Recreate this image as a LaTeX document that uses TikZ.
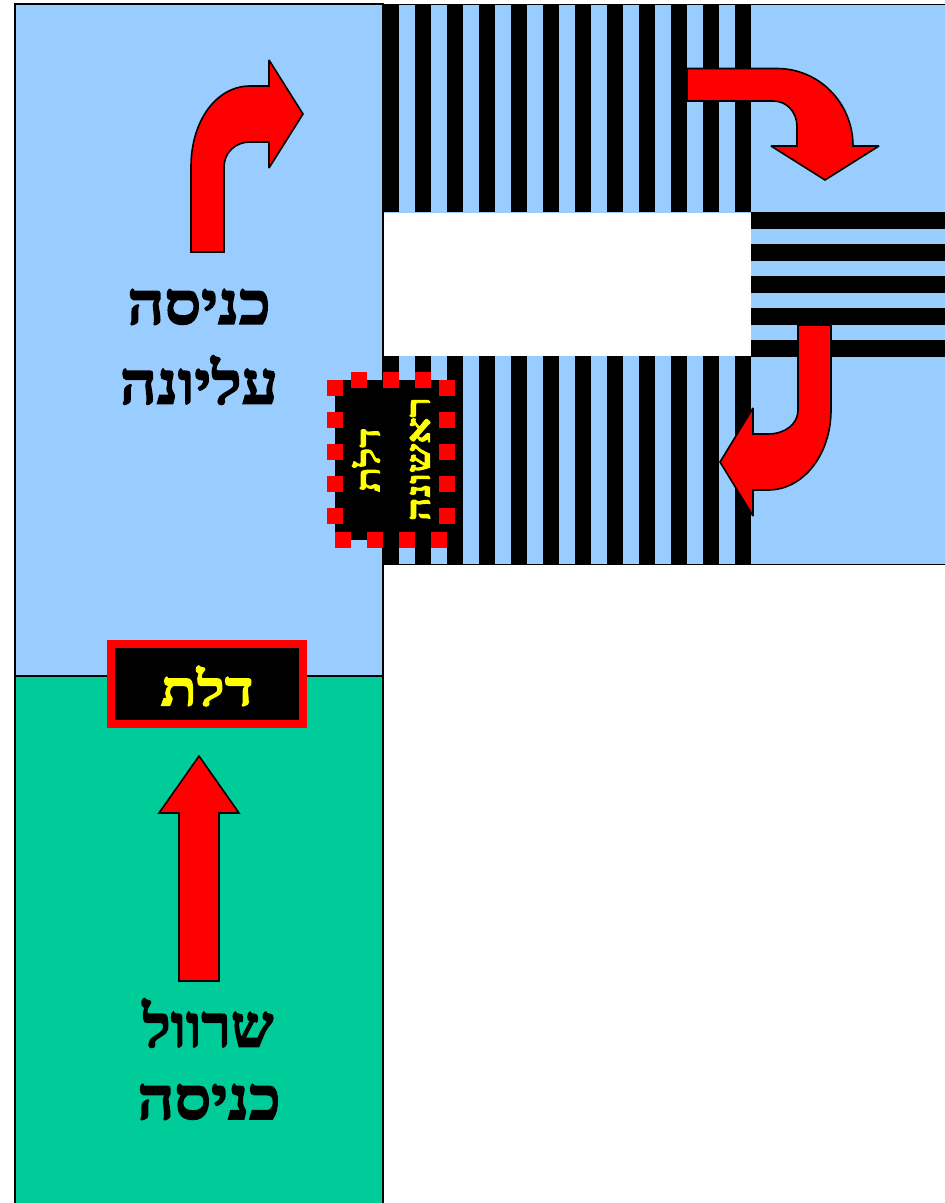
\documentclass[tikz,border=0pt]{standalone}
\usepackage{fontspec}
\TeXXeTstate=1
\newfontfamily\hebfont[Script=Hebrew,UprightFont={* Bold},FakeBold=2.8,FakeStretch=1.1]{Liberation Serif}
\newfontfamily\hebwide[Script=Hebrew,UprightFont={* Bold},FakeBold=2.8,FakeStretch=1.24]{Liberation Serif}
\definecolor{skyb}{HTML}{99CCFF}
\definecolor{seag}{HTML}{00CC99}
\definecolor{rd}{HTML}{FF0000}
\definecolor{yl}{HTML}{FFFF00}
\tikzset{
  region/.style={fill=skyb,draw=black,line width=0.9pt},
  greenregion/.style={fill=seag,draw=black,line width=0.9pt},
  stripe/.style={fill=black,draw=none},
  redarrow/.style={fill=rd,draw=black,line width=1.2pt,line join=miter,miter limit=3},
  dot/.style={fill=rd,draw=none},
  biglabel/.style={font=\hebfont\fontsize{44}{44}\selectfont,text=black,inner sep=0pt},
  doorlabel/.style={font=\hebwide\fontsize{36}{36}\selectfont,text=yl,inner sep=0pt},
  sidelabel/.style={font=\hebwide\fontsize{25}{25}\selectfont,text=yl,inner sep=0pt,rotate=90}
}
\begin{document}
\begin{tikzpicture}[x=0.75pt,y=-0.75pt]
\useasboundingbox (0,0) rectangle (945,1203);
% regions
\path[greenregion] (15,676) rectangle (383,1210);
\path[region] (15,4) rectangle (383,676);
\path[region,line width=0.5pt] (383,4) rectangle (950,564);
% vertical stripes
\foreach \k in {0,...,11}{
  \fill[stripe] ({382.5+32*\k},3.5) rectangle ({399+32*\k},212);
  \fill[stripe] ({382.5+32*\k},356) rectangle ({399+32*\k},564.5);
}
% white gap
\fill[white] (383.5,212.5) rectangle (750.5,355.5);
% horizontal stripes
\foreach \k in {0,...,4}{
  \fill[stripe] (751,{212+32*\k}) rectangle (950,{229+32*\k});
}
\draw[black,line width=0.9pt] (383,356) -- (383,1210);
% arrows
\draw[redarrow] (191,252) -- (191,167) .. controls (191,120) and (217,86) .. (250,86) -- (269,86) -- (269,60) -- (303,114) -- (269,168) -- (269,142) -- (250,142) .. controls (235,142) and (224,153) .. (224,167) -- (224,252) -- cycle;
\draw[redarrow] (687,68.5) -- (777,68.5) .. controls (819,68.5) and (853,103) .. (853,146) -- (879,146) -- (825,180) -- (771,146) -- (797,146) -- (797,127) .. controls (797,112) and (787,101) .. (773,101) -- (687,101) -- cycle;
\draw[redarrow] (798,325) -- (798,410) .. controls (798,424) and (785,434) .. (768,434) -- (753,434) -- (753,408) -- (720,462) -- (753,516) -- (753,490) -- (768,490) .. controls (803,490) and (831,455) .. (831,410) -- (831,325) -- cycle;
\draw[redarrow] (179,981) -- (179,813) -- (159,813) -- (199,756) -- (239,813) -- (219,813) -- (219,981) -- cycle;
% main door
\fill[rd] (107,640) rectangle (307,728);
\fill[black] (115,648) rectangle (299,720);
\node[doorlabel] (door) at (207,686) {\beginR דלת\endR};
% first door
\fill[black] (335,380) rectangle (447,540);
\foreach \yy in {380,412,444,476,508}{
  \fill[dot] (327,\yy) rectangle +(16,16);
  \fill[dot] (439,\yy) rectangle +(16,16);
}
\foreach \xx in {351,383,415}{
  \fill[dot] (\xx,372) rectangle +(16,16);
}
\foreach \xx in {335,367,399,431}{
  \fill[dot] (\xx,532) rectangle +(16,16);
}
\node[sidelabel] (first1) at (366,460) {\beginR דלת\endR};
\node[sidelabel] (first2) at (420,459) {\beginR ראשונה\endR};
% labels
\node[biglabel] (l1) at (199,307) {\beginR כניסה\endR};
\node[biglabel] (l2) at (199,380) {\beginR עליונה\endR};
\node[biglabel] (l3) at (208,1023) {\scalebox{0.93}[1]{\beginR שרוול\endR}};
\node[biglabel] (l4) at (209,1102) {\beginR כניסה\endR};
\end{tikzpicture}
\end{document}
